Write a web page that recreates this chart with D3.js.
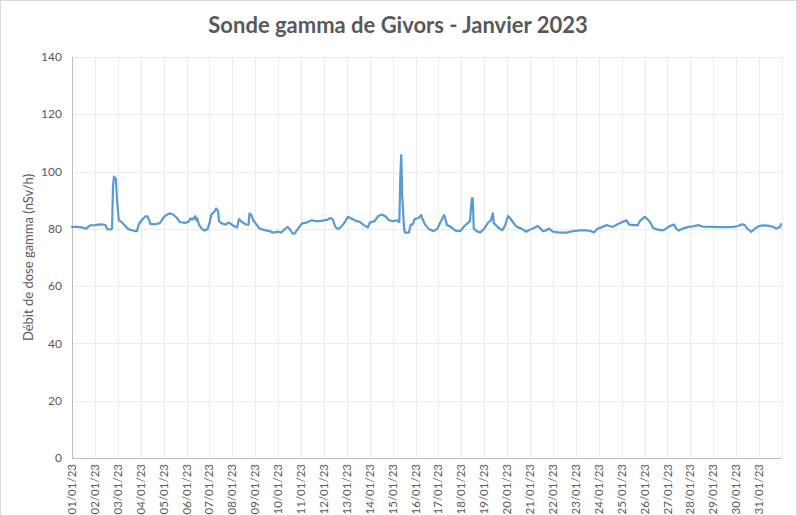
<!DOCTYPE html>
<html><head><meta charset="utf-8">
<script src="https://cdn.jsdelivr.net/npm/d3@7"></script>
<style>body{margin:0;background:#fff}svg{display:block}</style>
</head><body>
<script>
// Hour offsets from 01/01/2023 00:00 and dose rate (nSv/h)
const hours = [0,5,10,15,19,24,31,35,37,41,42,43,44,46,47,49,52,55,59,63,66,68,70,73,77,79,81,82,87,92,97,102,106,110,113,118,122,124,126,129,130,131,133,136,139,142,144,146,149,151,153,154,157,161,164,167,170,173,175,178,182,185,186,188,190,192,196,198,203,207,211,216,219,223,226,229,231,233,237,241,246,251,255,260,264,267,271,273,276,279,282,286,289,294,298,301,306,310,312,317,321,325,329,332,337,340,343,344,345,346,348,349,353,355,357,359,363,366,367,370,374,379,383,386,389,390,393,397,402,407,411,415,417,419,420,421,424,428,432,436,439,441,442,446,448,451,454,457,459,462,466,471,476,479,483,488,491,493,497,500,502,504,511,518,525,532,539,544,547,551,556,560,563,567,570,575,579,581,584,588,593,595,600,603,606,609,612,618,621,625,629,631,633,636,640,646,651,656,661,670,679,686,693,698,702,705,708,712,715,719,724,729,735,738,742,743];
const dose = [80.7,80.7,80.5,80.1,81.2,81.3,81.6,81.3,79.9,79.8,80.2,95,98.2,97.5,91,83,82.4,81.3,79.9,79.5,79.2,79.2,81.6,83,84.4,84.4,83,81.7,81.6,82,84.4,85.4,85,83.8,82.4,82.1,82.4,83.6,83.2,84.4,83,83.8,81.5,80.1,79.4,79.9,81.9,85,85.9,87.1,86.3,82.7,81.9,81.5,82.2,81.6,80.9,80.5,83.4,82.4,81.6,81.5,85.4,84.8,83,82.1,80.3,79.9,79.5,79.2,78.7,79,78.7,79.9,80.7,79.5,78.4,78.3,80.1,81.9,82.2,83,82.7,82.7,83,83.1,83.8,83.4,80.7,79.9,80.7,82.4,84.2,83.4,82.7,82.5,81.3,80.5,82.2,82.7,84.5,85,84.2,83,82.7,83,82.4,97.6,105.7,91.8,80,78.7,78.7,81.5,81.6,83.4,83.8,84.8,83.6,81.5,79.9,79.2,80.1,82.2,84.2,84.8,81.3,80.7,79.4,79.2,80.9,82.1,82.7,90.6,90.6,80.1,79.2,78.7,80.1,82.2,83,85.4,82,80.7,80.1,79.5,81.3,84.5,83.8,82.4,80.7,80.1,79,79.6,80.1,81,80.1,79.2,79.5,80.1,79.5,79,78.7,78.7,79.2,79.5,79.5,79.2,78.7,80.1,80.7,81.3,81,80.7,81.3,82.1,82.7,83,81.5,81.3,81.3,82.7,84.2,83.4,82.2,80.3,79.9,79.5,79.7,80.7,81.3,81.5,80.1,79.4,80.1,80.7,80.9,81.3,80.8,80.7,80.6,80.6,80.7,81,81.6,81.3,79.9,79,79.9,80.9,81.2,81.1,80.7,80.1,80.7,81.6];
const yTicks = [0,20,40,60,80,100,120,140];
const dayLabels = ["01/01/23","02/01/23","03/01/23","04/01/23","05/01/23","06/01/23","07/01/23","08/01/23","09/01/23","10/01/23","11/01/23","12/01/23","13/01/23","14/01/23","15/01/23","16/01/23","17/01/23","18/01/23","19/01/23","20/01/23","21/01/23","22/01/23","23/01/23","24/01/23","25/01/23","26/01/23","27/01/23","28/01/23","29/01/23","30/01/23","31/01/23"];
const title = "Sonde gamma de Givors - Janvier 2023";
const yTitle = "Débit de dose gamma (nSv/h)";

const W = 797, H = 516;
const m = {left:72, right:15, top:57, bottom:58};
const svg = d3.select("body").append("svg").attr("width", W).attr("height", H);
svg.append("rect").attr("x",0.5).attr("y",0.5).attr("width",W-1).attr("height",H-1)
  .attr("fill","#fff").attr("stroke","#d9d9d9");

const x = d3.scaleLinear().domain([0, dayLabels.length*24]).range([m.left, W - m.right]);
const y = d3.scaleLinear().domain([0, 140]).range([H - m.bottom, m.top]);
const font = "Lato, 'Open Sans', sans-serif";
const txt = "#595959";

// gridlines
svg.append("g").selectAll("line").data(yTicks.slice(1)).join("line")
  .attr("x1", m.left).attr("x2", W - m.right)
  .attr("y1", d => Math.round(y(d))+0.5).attr("y2", d => Math.round(y(d))+0.5)
  .attr("stroke","#ececec").attr("stroke-width",1);
svg.append("g").selectAll("line").data(d3.range(1, dayLabels.length+1)).join("line")
  .attr("x1", d => Math.round(x(d*24))+0.5).attr("x2", d => Math.round(x(d*24))+0.5)
  .attr("y1", m.top).attr("y2", H - m.bottom)
  .attr("stroke","#ececec").attr("stroke-width",1);

// axes lines
svg.append("line").attr("x1", m.left+0.5).attr("x2", m.left+0.5).attr("y1", m.top).attr("y2", H-m.bottom)
  .attr("stroke","#bfbfbf");
svg.append("line").attr("x1", m.left).attr("x2", W-m.right).attr("y1", Math.round(y(0))+0.5).attr("y2", Math.round(y(0))+0.5)
  .attr("stroke","#bfbfbf");

// y tick labels
svg.append("g").selectAll("text").data(yTicks).join("text")
  .attr("x", 62).attr("y", d => y(d)).attr("dy","0.35em")
  .attr("text-anchor","end").attr("font-family",font).attr("font-size",12).attr("fill",txt)
  .text(d => d);

// x tick labels
svg.append("g").selectAll("text").data(dayLabels).join("text")
  .attr("transform", (d,i) => `translate(${x(i*24)},${H-m.bottom+6}) rotate(-90)`)
  .attr("text-anchor","end").attr("dy","0.35em")
  .attr("font-family",font).attr("font-size",11.5).attr("fill",txt)
  .text(d => d);

// line
const line = d3.line().x((d,i) => x(hours[i])).y(d => y(d));
svg.append("path").datum(dose).attr("d", line)
  .attr("fill","none").attr("stroke","#5b9bd5").attr("stroke-width",2.25)
  .attr("stroke-linejoin","round").attr("stroke-linecap","round");

// titles
svg.append("text").attr("x", 398).attr("y", 33).attr("text-anchor","middle")
  .attr("font-family",font).attr("font-weight","bold").attr("font-size",22).attr("fill",txt)
  .text(title);
svg.append("text").attr("transform", `translate(33,${(m.top + H - m.bottom)/2}) rotate(-90)`)
  .attr("text-anchor","middle").attr("font-family",font).attr("font-size",13).attr("fill",txt)
  .text(yTitle);
</script>
</body></html>
